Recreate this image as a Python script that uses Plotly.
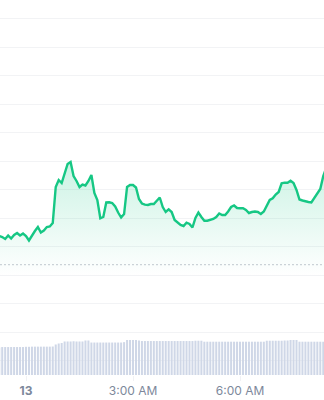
import pandas as pd
import plotly.graph_objects as go

# 5-minute samples starting 2024-01-12 23:15
start_time = "2024-01-12 23:15"
n_points = 111

price = [
    1.00368, 1.00333, 1.00263, 1.00386, 1.00281, 1.00404, 1.00474, 1.00386, 1.00456, 1.00368,
    1.00211, 1.00404, 1.00544, 1.00684, 1.00491, 1.00561, 1.00684, 1.00702, 1.00825, 1.02088,
    1.02333, 1.02228, 1.02544, 1.02895, 1.02965, 1.02474, 1.02298, 1.02088, 1.02175, 1.02140,
    1.02298, 1.02509, 1.01877, 1.01632, 1.00989, 1.01035, 1.01544, 1.01551, 1.01526, 1.01404,
    1.01193, 1.01018, 1.01140, 1.02088, 1.02158, 1.02158, 1.02070, 1.01667, 1.01509, 1.01467,
    1.01456, 1.01491, 1.01491, 1.01596, 1.01719, 1.01386, 1.01211, 1.01305, 1.01211, 1.00930,
    1.00825, 1.00754, 1.00719, 1.00835, 1.00789, 1.00667, 1.01000, 1.01193, 1.01035, 1.00905,
    1.00905, 1.00930, 1.00965, 1.01035, 1.01158, 1.01105, 1.01105, 1.01228, 1.01386, 1.01439,
    1.01351, 1.01340, 1.01340, 1.01281, 1.01175, 1.01211, 1.01228, 1.01211, 1.01140, 1.01228,
    1.01421, 1.01632, 1.01691, 1.01825, 1.01912, 1.02218, 1.02239, 1.02239, 1.02309, 1.02228,
    1.01982, 1.01649, 1.01614, 1.01579, 1.01561, 1.01544, 1.01702, 1.01825, 1.02018, 1.02474,
    1.02754,
]

volume = [
    36.8, 37.3, 37.3, 37.3, 37.3, 37.3, 37.3, 37.3, 37.3, 37.6,
    37.6, 37.8, 37.8, 37.8, 37.8, 37.8, 37.8, 37.8, 38.0, 40.7,
    42.0, 42.7, 44.7, 44.7, 44.7, 45.0, 44.7, 44.7, 44.7, 46.0,
    46.0, 43.3, 43.3, 43.3, 43.3, 43.3, 43.3, 43.3, 43.3, 43.3,
    43.3, 43.3, 43.8, 46.7, 46.7, 46.7, 46.7, 46.0, 45.3, 45.3,
    45.3, 45.3, 45.3, 45.3, 45.3, 45.3, 45.3, 45.3, 45.3, 45.3,
    45.3, 45.3, 45.3, 45.3, 45.3, 45.3, 45.7, 45.7, 45.7, 44.4,
    44.4, 44.4, 44.4, 44.4, 44.4, 44.4, 44.4, 44.4, 44.4, 44.4,
    44.4, 44.4, 44.4, 44.4, 44.4, 44.4, 44.4, 44.4, 44.4, 44.4,
    45.7, 45.7, 45.7, 45.7, 45.7, 45.7, 46.0, 46.0, 46.7, 46.7,
    46.7, 44.4, 44.4, 44.4, 44.4, 44.4, 44.4, 44.4, 44.4, 44.4,
    44.4,
]

ref_price = 0.99361  # dotted reference (open) price

tick_vals = ["2024-01-13 00:00", "2024-01-13 03:00", "2024-01-13 06:00", "2024-01-13 09:00"]
tick_text = ["<b>13</b>", "3:00 AM", "6:00 AM", "9:00 AM"]

x_range = ["2024-01-12 23:16:16", "2024-01-13 08:21:15"]
price_range = [0.954912, 1.086491]
volume_range = [0, 500]

times = pd.date_range(start_time, periods=n_points, freq="5min")

GREEN = "#16c784"

fig = go.Figure()

fig.add_trace(go.Bar(
    x=times, y=volume, yaxis="y2",
    marker=dict(color="#cfd7e7", line=dict(width=0)),
    hoverinfo="skip", showlegend=False,
))

fig.add_trace(go.Scatter(
    x=times, y=price, mode="lines",
    line=dict(color=GREEN, width=2.4, shape="linear"),
    fill="tozeroy",
    fillgradient=dict(
        type="vertical",
        colorscale=[[0, "rgba(22,199,132,0)"], [1, "rgba(22,199,132,0.22)"]],
        start=0.990, stop=1.030,
    ),
    showlegend=False,
))

fig.add_hline(y=ref_price, line=dict(color="#c3c8d0", width=1, dash="2px,2px"), layer="below")

fig.update_layout(
    width=324, height=400,
    margin=dict(l=0, r=0, t=0, b=25),
    paper_bgcolor="white", plot_bgcolor="white",
    bargap=0.32,
    xaxis=dict(
        type="date", range=x_range,
        showgrid=False, zeroline=False, showline=False,
        tickmode="array", tickvals=tick_vals, ticktext=tick_text,
        ticks="outside", ticklen=5, tickcolor="#f1f2f5",
        tickfont=dict(family="Inter", size=12, color="#7d889b"),
    ),
    yaxis=dict(
        range=price_range, dtick=0.01, tick0=0,
        showgrid=True, gridcolor="#f2f3f5", gridwidth=1,
        zeroline=False, showticklabels=False, showline=False,
    ),
    yaxis2=dict(
        range=volume_range, overlaying="y", visible=False,
        showgrid=False, zeroline=False,
    ),
)

fig.write_html("out.html")
